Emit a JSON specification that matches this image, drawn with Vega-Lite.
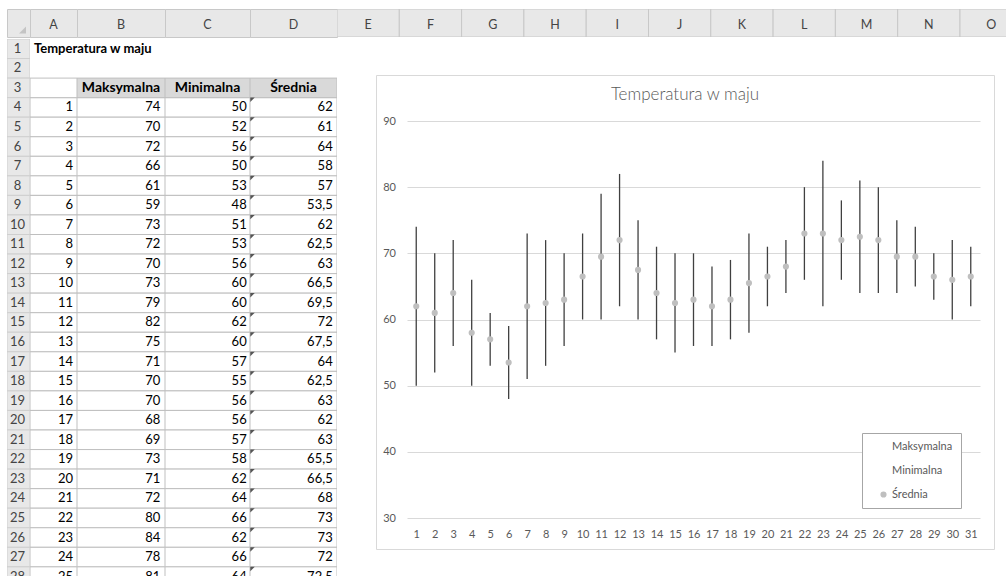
{
  "$schema": "https://vega.github.io/schema/vega-lite/v6.json",
  "background": "white",
  "padding": {"left": 6, "top": 8, "right": 0, "bottom": 0},
  "config": {
    "view": {"stroke": null},
    "font": "Lato",
    "locale": {"number": {"decimal": ",", "thousands": "\u00a0", "grouping": [3], "currency": ["", "\u00a0zł"]}}
  },
  "datasets": {
    "maj": [
      {"wiersz": 4, "dzien": 1, "Maksymalna": 74, "Minimalna": 50, "Średnia": 62},
      {"wiersz": 5, "dzien": 2, "Maksymalna": 70, "Minimalna": 52, "Średnia": 61},
      {"wiersz": 6, "dzien": 3, "Maksymalna": 72, "Minimalna": 56, "Średnia": 64},
      {"wiersz": 7, "dzien": 4, "Maksymalna": 66, "Minimalna": 50, "Średnia": 58},
      {"wiersz": 8, "dzien": 5, "Maksymalna": 61, "Minimalna": 53, "Średnia": 57},
      {"wiersz": 9, "dzien": 6, "Maksymalna": 59, "Minimalna": 48, "Średnia": 53.5},
      {"wiersz": 10, "dzien": 7, "Maksymalna": 73, "Minimalna": 51, "Średnia": 62},
      {"wiersz": 11, "dzien": 8, "Maksymalna": 72, "Minimalna": 53, "Średnia": 62.5},
      {"wiersz": 12, "dzien": 9, "Maksymalna": 70, "Minimalna": 56, "Średnia": 63},
      {"wiersz": 13, "dzien": 10, "Maksymalna": 73, "Minimalna": 60, "Średnia": 66.5},
      {"wiersz": 14, "dzien": 11, "Maksymalna": 79, "Minimalna": 60, "Średnia": 69.5},
      {"wiersz": 15, "dzien": 12, "Maksymalna": 82, "Minimalna": 62, "Średnia": 72},
      {"wiersz": 16, "dzien": 13, "Maksymalna": 75, "Minimalna": 60, "Średnia": 67.5},
      {"wiersz": 17, "dzien": 14, "Maksymalna": 71, "Minimalna": 57, "Średnia": 64},
      {"wiersz": 18, "dzien": 15, "Maksymalna": 70, "Minimalna": 55, "Średnia": 62.5},
      {"wiersz": 19, "dzien": 16, "Maksymalna": 70, "Minimalna": 56, "Średnia": 63},
      {"wiersz": 20, "dzien": 17, "Maksymalna": 68, "Minimalna": 56, "Średnia": 62},
      {"wiersz": 21, "dzien": 18, "Maksymalna": 69, "Minimalna": 57, "Średnia": 63},
      {"wiersz": 22, "dzien": 19, "Maksymalna": 73, "Minimalna": 58, "Średnia": 65.5},
      {"wiersz": 23, "dzien": 20, "Maksymalna": 71, "Minimalna": 62, "Średnia": 66.5},
      {"wiersz": 24, "dzien": 21, "Maksymalna": 72, "Minimalna": 64, "Średnia": 68},
      {"wiersz": 25, "dzien": 22, "Maksymalna": 80, "Minimalna": 66, "Średnia": 73},
      {"wiersz": 26, "dzien": 23, "Maksymalna": 84, "Minimalna": 62, "Średnia": 73},
      {"wiersz": 27, "dzien": 24, "Maksymalna": 78, "Minimalna": 66, "Średnia": 72},
      {"wiersz": 28, "dzien": 25, "Maksymalna": 81, "Minimalna": 64, "Średnia": 72.5},
      {"wiersz": 29, "dzien": 26, "Maksymalna": 80, "Minimalna": 64, "Średnia": 72},
      {"wiersz": 30, "dzien": 27, "Maksymalna": 75, "Minimalna": 64, "Średnia": 69.5},
      {"wiersz": 31, "dzien": 28, "Maksymalna": 74, "Minimalna": 65, "Średnia": 69.5},
      {"wiersz": 32, "dzien": 29, "Maksymalna": 70, "Minimalna": 63, "Średnia": 66.5},
      {"wiersz": 33, "dzien": 30, "Maksymalna": 72, "Minimalna": 60, "Średnia": 66},
      {"wiersz": 34, "dzien": 31, "Maksymalna": 71, "Minimalna": 62, "Średnia": 66.5}
    ],
    "wiersze": [
      {"w": 1}, {"w": 2}, {"w": 3}, {"w": 4}, {"w": 5}, {"w": 6}, {"w": 7}, {"w": 8}, {"w": 9}, {"w": 10},
      {"w": 11}, {"w": 12}, {"w": 13}, {"w": 14}, {"w": 15}, {"w": 16}, {"w": 17}, {"w": 18}, {"w": 19}, {"w": 20},
      {"w": 21}, {"w": 22}, {"w": 23}, {"w": 24}, {"w": 25}, {"w": 26}, {"w": 27}, {"w": 28}
    ],
    "kolumny": [
      {"k": "E"}, {"k": "F"}, {"k": "G"}, {"k": "H"}, {"k": "I"}, {"k": "J"}, {"k": "K"}, {"k": "L"}, {"k": "M"}, {"k": "N"}, {"k": "O"}
    ]
  },
  "vconcat": [
    {
      "hconcat": [
        {"width": 23, "height": 28, "data": {"values": [{}]}, "view": {"fill": "#e8e8e8", "stroke": "#c8c8c8"},
         "mark": {"type": "point", "shape": "M1,-1L1,1L-1,1Z", "filled": true, "color": "#c4c4c4", "opacity": 1, "size": 49, "xOffset": 4, "yOffset": 7}, "encoding": {}},
        {"width": 47, "height": 28, "data": {"values": [{}]}, "view": {"fill": "#e8e8e8", "stroke": "#c8c8c8"},
         "mark": {"type": "text", "text": "A", "fontSize": 12.5, "color": "#444444", "dy": 2}, "encoding": {}},
        {"width": 88, "height": 28, "data": {"values": [{}]}, "view": {"fill": "#e8e8e8", "stroke": "#c8c8c8"},
         "mark": {"type": "text", "text": "B", "fontSize": 12.5, "color": "#444444", "dy": 2}, "encoding": {}},
        {"width": 85, "height": 28, "data": {"values": [{}]}, "view": {"fill": "#e8e8e8", "stroke": "#c8c8c8"},
         "mark": {"type": "text", "text": "C", "fontSize": 12.5, "color": "#444444", "dy": 2}, "encoding": {}},
        {"width": 87, "height": 28, "data": {"values": [{}]}, "view": {"fill": "#e8e8e8", "stroke": "#c8c8c8"},
         "mark": {"type": "text", "text": "D", "fontSize": 12.5, "color": "#444444", "dy": 2}, "encoding": {}},
        {"width": 669, "height": 28, "data": {"name": "kolumny"}, "view": {"fill": "#e8e8e8", "stroke": null},
         "encoding": {"x": {"field": "k", "type": "nominal", "scale": {"range": [0, 685.3], "paddingInner": 0, "paddingOuter": 0}, "axis": null}},
         "layer": [
           {"mark": {"type": "rect", "fill": "#e8e8e8", "stroke": "#c8c8c8", "clip": true}},
           {"mark": {"type": "text", "fontSize": 12.5, "color": "#444444", "dy": 2, "clip": true}, "encoding": {"text": {"field": "k"}}}
         ]}
      ],
      "bounds": "flush",
      "spacing": 0
    },
    {
      "hconcat": [
        {"width": 23, "height": 539, "data": {"name": "wiersze"}, "view": {"fill": "#e8e8e8", "stroke": null},
         "encoding": {"y": {"field": "w", "type": "ordinal", "scale": {"domain": [1,2,3,4,5,6,7,8,9,10,11,12,13,14,15,16,17,18,19,20,21,22,23,24,25,26,27,28], "range": [0, 547.4], "paddingInner": 0, "paddingOuter": 0}, "axis": null}},
         "layer": [
           {"mark": {"type": "rect", "fill": "#e8e8e8", "stroke": "#cfcfcf", "clip": true}},
           {"mark": {"type": "text", "fontSize": 13, "color": "#444444", "dx": -1, "clip": true}, "encoding": {"text": {"field": "w", "type": "ordinal"}}}
         ]},
        {"width": 47, "height": 539, "data": {"name": "maj"}, "transform": [{"filter": "datum.wiersz <= 28"}],
         "encoding": {"y": {"field": "wiersz", "type": "ordinal", "scale": {"domain": [1,2,3,4,5,6,7,8,9,10,11,12,13,14,15,16,17,18,19,20,21,22,23,24,25,26,27,28], "range": [0, 547.4], "paddingInner": 0, "paddingOuter": 0}, "axis": null}},
         "layer": [
           {"mark": {"type": "rect", "fill": "white", "stroke": "#bfbfbf", "clip": true}},
           {"data": {"values": [{}]}, "mark": {"type": "rect", "fill": "white", "stroke": "#bfbfbf", "clip": true}, "encoding": {"y": {"datum": 3, "type": "ordinal"}}},
           {"mark": {"type": "text", "align": "right", "dx": 19.5, "fontSize": 13, "color": "#000000", "clip": true}, "encoding": {"text": {"field": "dzien", "type": "quantitative"}}},
           {"data": {"values": [{}]}, "mark": {"type": "text", "align": "left", "dx": -19.5, "fontSize": 13, "fontWeight": "bold", "color": "#000000", "text": "Temperatura w maju"}, "encoding": {"y": {"datum": 1, "type": "ordinal"}}}
         ]},
        {"width": 88, "height": 539, "data": {"name": "maj"}, "transform": [{"filter": "datum.wiersz <= 28"}],
         "encoding": {"y": {"field": "wiersz", "type": "ordinal", "scale": {"domain": [1,2,3,4,5,6,7,8,9,10,11,12,13,14,15,16,17,18,19,20,21,22,23,24,25,26,27,28], "range": [0, 547.4], "paddingInner": 0, "paddingOuter": 0}, "axis": null}},
         "layer": [
           {"mark": {"type": "rect", "fill": "white", "stroke": "#bfbfbf", "clip": true}},
           {"data": {"values": [{}]}, "mark": {"type": "rect", "fill": "#d9d9d9", "stroke": "#bfbfbf", "clip": true}, "encoding": {"y": {"datum": 3, "type": "ordinal"}}},
           {"data": {"values": [{}]}, "mark": {"type": "text", "fontSize": 14, "fontWeight": "bold", "color": "#000000", "text": "Maksymalna"}, "encoding": {"y": {"datum": 3, "type": "ordinal"}}},
           {"mark": {"type": "text", "align": "right", "dx": 39.3, "fontSize": 13, "color": "#000000", "clip": true}, "encoding": {"text": {"field": "Maksymalna", "type": "quantitative"}}}
         ]},
        {"width": 85, "height": 539, "data": {"name": "maj"}, "transform": [{"filter": "datum.wiersz <= 28"}],
         "encoding": {"y": {"field": "wiersz", "type": "ordinal", "scale": {"domain": [1,2,3,4,5,6,7,8,9,10,11,12,13,14,15,16,17,18,19,20,21,22,23,24,25,26,27,28], "range": [0, 547.4], "paddingInner": 0, "paddingOuter": 0}, "axis": null}},
         "layer": [
           {"mark": {"type": "rect", "fill": "white", "stroke": "#bfbfbf", "clip": true}},
           {"data": {"values": [{}]}, "mark": {"type": "rect", "fill": "#d9d9d9", "stroke": "#bfbfbf", "clip": true}, "encoding": {"y": {"datum": 3, "type": "ordinal"}}},
           {"data": {"values": [{}]}, "mark": {"type": "text", "fontSize": 14, "fontWeight": "bold", "color": "#000000", "text": "Minimalna"}, "encoding": {"y": {"datum": 3, "type": "ordinal"}}},
           {"mark": {"type": "text", "align": "right", "dx": 39.2, "fontSize": 13, "color": "#000000", "clip": true}, "encoding": {"text": {"field": "Minimalna", "type": "quantitative"}}}
         ]},
        {"width": 87, "height": 539, "data": {"name": "maj"}, "transform": [{"filter": "datum.wiersz <= 28"}],
         "encoding": {"y": {"field": "wiersz", "type": "ordinal", "scale": {"domain": [1,2,3,4,5,6,7,8,9,10,11,12,13,14,15,16,17,18,19,20,21,22,23,24,25,26,27,28], "range": [0, 547.4], "paddingInner": 0, "paddingOuter": 0}, "axis": null}},
         "layer": [
           {"mark": {"type": "rect", "fill": "white", "stroke": "#bfbfbf", "clip": true}},
           {"data": {"values": [{}]}, "mark": {"type": "rect", "fill": "#d9d9d9", "stroke": "#bfbfbf", "clip": true}, "encoding": {"y": {"datum": 3, "type": "ordinal"}}},
           {"data": {"values": [{}]}, "mark": {"type": "text", "fontSize": 14, "fontWeight": "bold", "color": "#000000", "text": "Średnia"}, "encoding": {"y": {"datum": 3, "type": "ordinal"}}},
           {"mark": {"type": "text", "align": "right", "dx": 39.2, "fontSize": 13, "color": "#000000", "clip": true}, "encoding": {"text": {"field": "Średnia", "type": "quantitative", "format": ".4~g"}}},
           {"mark": {"type": "point", "shape": "M-1,-1L1,-1L-1,1Z", "filled": true, "color": "#555555", "opacity": 1, "size": 20, "xOffset": -41, "yOffset": -7.6, "clip": true}}
         ]},
        {"width": 39, "height": 10, "data": {"values": [{}]}, "mark": {"type": "text", "text": ""}, "encoding": {}},
        {
          "vconcat": [
            {"width": 618, "height": 35.8, "data": {"values": [{}]}, "mark": {"type": "text", "text": ""}, "encoding": {}},
            {
              "width": 618,
              "height": 474,
              "view": {"fill": "white", "stroke": "#d9d9d9"},
              "data": {"name": "maj"},
              "title": {"text": "Temperatura w maju", "offset": -29, "frame": "group", "anchor": "middle", "fontSize": 17, "fontWeight": 300, "color": "#595959", "font": "Lato"},
              "encoding": {
                "x": {"field": "dzien", "type": "ordinal",
                      "scale": {"type": "point", "range": [31, 604], "padding": 0.5},
                      "axis": {"orient": "bottom", "offset": -31, "domain": false, "ticks": false, "labelPadding": 10, "labelAngle": 0, "labelFontSize": 11, "labelColor": "#595959", "title": null, "grid": false}}
              },
              "layer": [
                {"mark": {"type": "rule", "color": "#404040", "strokeWidth": 1.3},
                 "encoding": {
                   "y": {"field": "Minimalna", "type": "quantitative",
                         "scale": {"domain": [30, 90], "range": [443, 46], "nice": false, "zero": false},
                         "axis": {"orient": "left", "offset": -31, "values": [30, 40, 50, 60, 70, 80, 90], "domain": false, "ticks": false, "labelPadding": 11.5, "labelFontSize": 11, "labelColor": "#595959", "grid": true, "gridColor": "#d9d9d9", "gridWidth": 1, "title": null}},
                   "y2": {"field": "Maksymalna"}
                 }},
                {"mark": {"type": "point", "filled": true, "size": 38, "opacity": 1},
                 "encoding": {
                   "y": {"field": "Średnia", "type": "quantitative"},
                   "color": {"datum": "Średnia", "type": "nominal",
                             "scale": {"domain": ["Maksymalna", "Minimalna", "Średnia"], "range": ["rgba(0,0,0,0)", "rgba(0,0,0,0)", "#bfbfbf"]},
                             "legend": {"orient": "none", "legendX": 855, "legendY": 424, "title": null, "direction": "vertical",
                                        "fillColor": "white", "strokeColor": "#a6a6a6", "padding": 8, "symbolOffset": 8,
                                        "symbolType": "circle", "symbolSize": 38, "symbolStrokeWidth": 0,
                                        "labelFontSize": 11, "labelColor": "#595959", "labelOffset": 3, "rowPadding": 12}}
                 }}
              ]
            }
          ],
          "bounds": "flush",
          "spacing": 0
        }
      ],
      "bounds": "flush",
      "spacing": 0
    }
  ],
  "spacing": 0
}
